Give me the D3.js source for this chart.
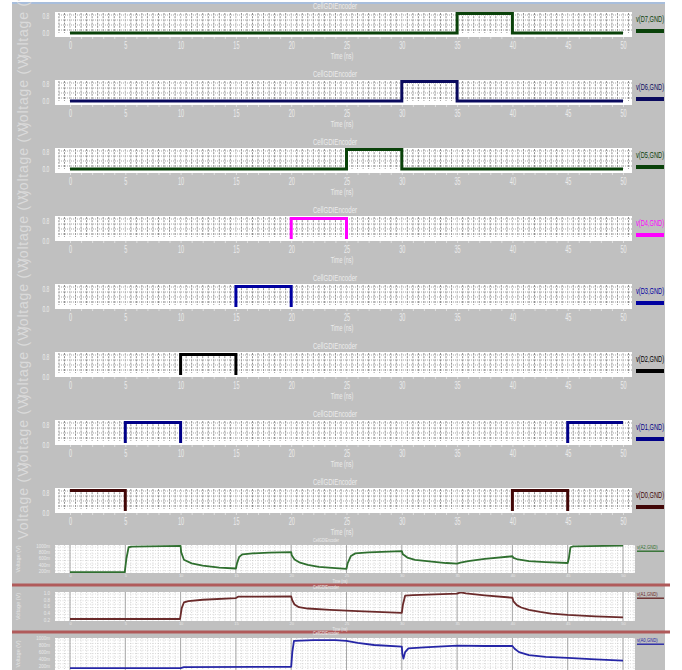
<!DOCTYPE html>
<html>
<head>
<meta charset="utf-8">
<script src="https://cdn.jsdelivr.net/npm/d3@7/dist/d3.min.js"></script>
<style>
  body { margin: 0; background: #fff; }
  svg { display: block; }
  text { font-family: "Liberation Sans", Arial, sans-serif; }
</style>
</head>
<body>
<svg id="chart" width="682" height="670"></svg>
<script>
// ---- data ---------------------------------------------------------------
const timeTicks = [0, 5, 10, 15, 20, 25, 30, 35, 40, 45, 50];
const digitalTickValues = [0, 0.8];
const analogTickValues = [1.0, 0.8, 0.6, 0.4, 0.2];
const analogTickLabelsMv = ["1000m", "800m", "600m", "400m", "200m"];
const analogTickLabelsV = ["1.0", "0.8", "0.6", "0.4", "0.2"];

const digitalNames = ["v(D7,GND)", "v(D6,GND)", "v(D5,GND)", "v(D4,GND)",
                      "v(D3,GND)", "v(D2,GND)", "v(D1,GND)", "v(D0,GND)"];

// encoder inputs: [time ns, volts]
const inD7 = [[0,0],[35,0],[35,0.9],[40,0.9],[40,0],[50,0]];
const inD6 = [[0,0],[30,0],[30,0.9],[35,0.9],[35,0],[50,0]];
const inD5 = [[0,0],[25,0],[25,0.9],[30,0.9],[30,0],[50,0]];
const inD4 = [[0,0],[20,0],[20,0.9],[25,0.9],[25,0],[50,0]];
const inD3 = [[0,0],[15,0],[15,0.9],[20,0.9],[20,0],[50,0]];
const inD2 = [[0,0],[10,0],[10,0.9],[15,0.9],[15,0],[50,0]];
const inD1 = [[0,0],[5,0],[5,0.9],[10,0.9],[10,0],[45,0],[45,0.9],[50,0.9]];
const inD0 = [[0,0.9],[5,0.9],[5,0],[40,0],[40,0.9],[45,0.9],[45,0],[50,0]];
const digitalSeries = [inD7, inD6, inD5, inD4, inD3, inD2, inD1, inD0];

// encoder outputs: [time ns, volts]
const analogNames = ["v(A2,GND)", "v(A1,GND)", "v(A0,GND)"];
const outA2 = [[0,0.18],[4.95,0.18],[5.1,0.6],[5.3,0.95],[5.6,0.97],[7,0.98],[10,0.99],
  [10.05,0.8],[10.3,0.56],[11,0.45],[12,0.38],[13.5,0.32],[15,0.29],
  [15.1,0.45],[15.3,0.65],[15.6,0.73],[16.5,0.76],[18,0.78],[20,0.8],
  [20.05,0.7],[20.3,0.57],[20.8,0.47],[21.5,0.4],[22.5,0.34],[24,0.3],[25,0.28],
  [25.1,0.45],[25.4,0.68],[25.8,0.76],[27,0.79],[30,0.83],
  [30.1,0.73],[30.5,0.63],[31.2,0.56],[32.5,0.51],[34,0.46],[35,0.44],
  [35.3,0.47],[36,0.52],[37.5,0.59],[40,0.67],
  [40.1,0.62],[40.5,0.57],[41.5,0.52],[43,0.49],[45,0.46],
  [45.1,0.6],[45.25,0.95],[45.5,0.98],[50,1.0]];
const outA1 = [[0,0.23],[9.95,0.23],[10.1,0.55],[10.3,0.72],[10.7,0.76],[12,0.8],[15,0.85],
  [15.2,0.89],[17,0.89],[20,0.9],
  [20.1,0.78],[20.3,0.66],[20.7,0.58],[21.5,0.54],[23.5,0.5],[26,0.46],[30,0.41],
  [30.1,0.65],[30.3,0.92],[31,0.94],[33,0.96],[35,0.98],[35.3,1.02],[35.8,0.99],[37.5,0.93],[40,0.86],
  [40.1,0.75],[40.4,0.64],[40.8,0.57],[41.5,0.5],[42.5,0.44],[43.5,0.39],[45,0.35],[47.5,0.31],[50,0.28]];
const outA0 = [[0,0.13],[10,0.13],[10.3,0.16],[20,0.17],
  [20.1,0.6],[20.25,0.93],[22,0.95],[24,0.95],[25,0.93],[26,0.87],[27.5,0.81],[30,0.76],
  [30.05,0.55],[30.15,0.41],[30.3,0.6],[30.6,0.71],[32,0.74],[35,0.79],[37.5,0.78],[40,0.78],
  [40.2,0.7],[40.6,0.6],[41.5,0.51],[43,0.46],[45,0.43],[47.5,0.39],[50,0.35]];
const analogSeries = [outA2, outA1, outA0];

// ---- styling ------------------------------------------------------------
const digitalColors = ["#0a420a", "#0a0a5e", "#0a420a", "#ff00ff",
                       "#0000a0", "#000000", "#000088", "#420808"];
const analogColors = ["#2f6f2f", "#6a2a2a", "#2626a6"];
const bg = "#c0c0c0";
const lightText = "#ececec";

const svg = d3.select("#chart");
svg.append("rect").attr("width", 682).attr("height", 670).attr("fill", "#fff");
svg.append("rect").attr("x", 12).attr("y", 3).attr("width", 653).attr("height", 667).attr("fill", bg);
svg.append("rect").attr("x", 12).attr("y", 2).attr("width", 653).attr("height", 2).attr("fill", "#a8bedc");

// condensed text: place at (tx, ty), squeeze horizontally by sx
function narrow(sel, tx, ty, sx) {
  return sel.attr("transform", `translate(${tx},${ty}) scale(${sx},1)`);
}

const x = d3.scaleLinear().domain([0, 50]).range([70, 623]);
const plotLeft = 55, plotRight = 632;
const line = (xs, ys) => d3.line().x(d => xs(d[0])).y(d => ys(d[1]));

// ---- digital input panels ----------------------------------------------
const panelStep = 68, panelH = 25, firstTop = 12;

digitalSeries.forEach((pts, i) => {
  const top = firstTop + panelStep * i, bot = top + panelH;
  // upper three panels keep some room under 0 V; the rest put 0 V on the frame edge
  const lowOnEdge = i >= 3;
  const y = lowOnEdge
    ? d3.scaleLinear().domain([0, 0.9]).range([bot - 0.5, top + 2.5])
    : d3.scaleLinear().domain([0, 0.9]).range([bot - 4, top + 1.5]);
  const g = svg.append("g");
  const clipId = "clipD" + i;
  g.append("clipPath").attr("id", clipId).append("rect")
    .attr("x", plotLeft).attr("y", top).attr("width", plotRight - plotLeft)
    .attr("height", lowOnEdge ? panelH - 2 : panelH);

  // rotated axis title (they overlap into a continuous column)
  g.append("text")
    .attr("transform", `translate(24,${(top + bot) / 2}) rotate(-90)`)
    .attr("text-anchor", "middle").attr("dominant-baseline", "middle")
    .attr("font-size", 14).attr("letter-spacing", 0.8)
    .attr("fill", "#dadada").text("Voltage (V)");

  // panel title
  narrow(g.append("text"), 335, top - 3, 0.68)
    .attr("text-anchor", "middle").attr("font-size", 9)
    .attr("fill", lightText).text("CellGDIEncoder");

  // plot area and dense dotted grid
  g.append("rect").attr("x", plotLeft).attr("y", top).attr("width", plotRight - plotLeft)
    .attr("height", panelH).attr("fill", "#fff");
  const gridT = d3.range(-1, 50.51, 0.5);
  g.append("g").selectAll("line").data(gridT).join("line")
    .attr("x1", d => x(d)).attr("x2", d => x(d))
    .attr("y1", top + 1).attr("y2", bot - 4)
    .attr("stroke", d => (d % 5 === 0 ? "#b4b4b4" : "#8e8e8e"))
    .attr("stroke-width", 1).attr("stroke-dasharray", "2,1.2");
  g.append("g").selectAll("line").data([0.1, 0.35, 0.6, 0.85]).join("line")
    .attr("x1", plotLeft + 4).attr("x2", plotRight)
    .attr("y1", d => top + 1 + d * (panelH - 5)).attr("y2", d => top + 1 + d * (panelH - 5))
    .attr("stroke", "#a6a6a6").attr("stroke-dasharray", "1,1");

  // waveform
  g.append("path").datum(pts)
    .attr("clip-path", `url(#${clipId})`)
    .attr("d", line(x, y))
    .attr("fill", "none").attr("stroke", digitalColors[i]).attr("stroke-width", 3);

  // axes
  const yAxis = g.append("g").attr("transform", `translate(${plotLeft - 4},0)`)
    .call(d3.axisLeft(y).tickValues(digitalTickValues).tickFormat(d3.format(".1f")).tickSize(0));
  yAxis.select(".domain").remove();
  yAxis.selectAll("text").attr("font-size", 9).attr("fill", lightText)
    .attr("transform", "scale(0.55,1)");

  const xMinor = g.append("g").attr("transform", `translate(0,${bot})`)
    .call(d3.axisBottom(x).tickValues(d3.range(0, 51, 1)).tickSize(2).tickFormat(""));
  xMinor.select(".domain").remove();
  xMinor.selectAll("line").attr("stroke", "#e0e0e0");

  const xAxis = g.append("g").attr("transform", `translate(0,${bot + 2})`)
    .call(d3.axisBottom(x).tickValues(timeTicks).tickSize(0));
  xAxis.select(".domain").remove();
  xAxis.selectAll("text").attr("font-size", 10).attr("fill", lightText)
    .attr("transform", "scale(0.55,1)");

  narrow(g.append("text"), 342, bot + 22, 0.6)
    .attr("text-anchor", "middle").attr("font-size", 9)
    .attr("fill", lightText).text("Time (ns)");

  // legend
  narrow(g.append("text"), 636, top + 10, 0.67)
    .attr("font-size", 8.5).attr("fill", digitalColors[i]).text(digitalNames[i]);
  g.append("rect").attr("x", 636).attr("y", top + 17).attr("width", 28).attr("height", 4)
    .attr("fill", digitalColors[i]);
});

// ---- analog output panels ----------------------------------------------
const analogPanels = [
  { top: 545, bot: 573, dom: [0.15, 1.02], labels: analogTickLabelsMv, axis: true },
  { top: 592, bot: 621, dom: [0.17, 1.03], labels: analogTickLabelsV, axis: true },
  { top: 638, bot: 676, dom: [-0.1, 1.015], labels: analogTickLabelsMv, axis: false }
];

// separators between output panels
[585, 632].forEach(yy => {
  svg.append("rect").attr("x", 12).attr("y", yy - 1.5).attr("width", 658).attr("height", 3)
    .attr("fill", "#b05a5a");
});

analogSeries.forEach((pts, i) => {
  const p = analogPanels[i];
  const y = d3.scaleLinear().domain(p.dom).range([p.bot, p.top]);
  const g = svg.append("g");
  const clipId = "clipA" + i;
  g.append("clipPath").attr("id", clipId).append("rect")
    .attr("x", plotLeft).attr("y", p.top).attr("width", 580).attr("height", p.bot - p.top);

  g.append("text")
    .attr("transform", `translate(19,${(p.top + Math.min(p.bot, 670)) / 2}) rotate(-90)`)
    .attr("text-anchor", "middle").attr("dominant-baseline", "middle")
    .attr("font-size", 5.5).attr("fill", "#e4e4e4").text("Voltage (V)");

  narrow(g.append("text"), 326, p.top - 3.5, 0.8)
    .attr("text-anchor", "middle").attr("font-size", 4.5)
    .attr("fill", lightText).text("CellGDIEncoder");

  g.append("rect").attr("x", plotLeft).attr("y", p.top).attr("width", 580)
    .attr("height", p.bot - p.top).attr("fill", "#fff");

  // minor grid
  g.append("g").selectAll("line").data(d3.range(-1, 51.01, 0.5)).join("line")
    .attr("x1", d => x(d)).attr("x2", d => x(d))
    .attr("y1", p.top).attr("y2", p.bot)
    .attr("stroke", "#c8c8c8").attr("stroke-width", 0.8).attr("stroke-dasharray", "1,1.5");
  g.append("g").selectAll("line").data(d3.range(p.top + 2, p.bot, 3.4)).join("line")
    .attr("x1", plotLeft).attr("x2", plotLeft + 580)
    .attr("y1", d => d).attr("y2", d => d)
    .attr("stroke", "#cfcfcf").attr("stroke-width", 0.8).attr("stroke-dasharray", "1,1.5");
  // major grid
  g.append("g").selectAll("line").data(timeTicks).join("line")
    .attr("x1", d => x(d)).attr("x2", d => x(d))
    .attr("y1", p.top).attr("y2", p.bot)
    .attr("stroke", "#a8a8a8").attr("stroke-width", 1);

  g.append("path").datum(pts)
    .attr("clip-path", `url(#${clipId})`)
    .attr("d", line(x, y))
    .attr("fill", "none").attr("stroke", analogColors[i]).attr("stroke-width", 1.8)
    .attr("stroke-linejoin", "round");

  const yAxis = g.append("g").attr("transform", `translate(${plotLeft - 2},0)`)
    .call(d3.axisLeft(y).tickValues(analogTickValues).tickSize(0)
      .tickFormat((d, k) => p.labels[k]));
  yAxis.select(".domain").remove();
  yAxis.selectAll("text").attr("font-size", 4.5).attr("fill", "#e8e8e8");

  if (p.axis) {
    const xAxis = g.append("g").attr("transform", `translate(0,${p.bot})`)
      .call(d3.axisBottom(x).tickValues(timeTicks).tickSize(0).tickPadding(1.5));
    xAxis.select(".domain").remove();
    xAxis.selectAll("text").attr("font-size", 4).attr("fill", "#e8e8e8");

    narrow(g.append("text"), 340, p.bot + 9.5, 0.8)
      .attr("text-anchor", "middle").attr("font-size", 4.5)
      .attr("fill", lightText).text("Time (ns)");
  }

  narrow(g.append("text"), 637, p.top + 4, 0.85)
    .attr("font-size", 5).attr("fill", analogColors[i]).text(analogNames[i]);
  g.append("rect").attr("x", 637).attr("y", p.top + 5.5).attr("width", 27).attr("height", 1.4)
    .attr("fill", analogColors[i]);
});
</script>
</body>
</html>
